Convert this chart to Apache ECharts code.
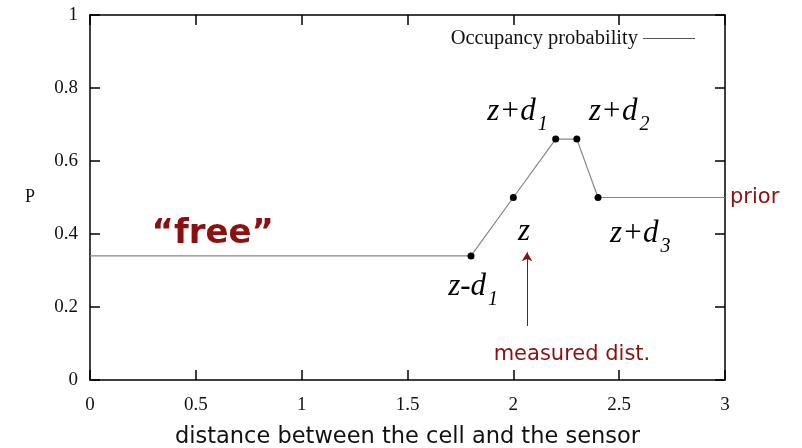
<!DOCTYPE html>
<html>
<head>
<meta charset="utf-8">
<script src="https://cdn.jsdelivr.net/npm/echarts@6/dist/echarts.min.js"></script>
<style>
  html, body { margin: 0; padding: 0; background: #fff; }
  #chart { width: 802px; height: 448px; }
</style>
</head>
<body>
<div id="chart"></div>
<script>
// distance / probability of the sensor model
const distX = [0, 1.8, 2.0, 2.2, 2.3, 2.4, 3.0];
const occP = [0.34, 0.34, 0.5, 0.66, 0.66, 0.5, 0.5];
const xTicks = [0, 0.5, 1, 1.5, 2, 2.5, 3];
const yTicks = [0, 0.2, 0.4, 0.6, 0.8, 1];

// italic labels next to the curve: [x, y, rich text]
const mathLabels = [
  [2.02, 0.725, "{m|z+d}{s|1}"],
  [2.50, 0.725, "{m|z+d}{s|2}"],
  [2.05, 0.405, "{m|z}"],
  [2.60, 0.39, "{m|z+d}{s|3}"],
  [1.81, 0.245, "{m|z-d}{s|1}"]
];
// red notes: [x, y, text, size, weight]
const notes = [
  [0.58, 0.40, "“free”", 34, "bold"],
  [2.277, 0.07, "measured dist.", 21, "normal"]
];
const arrowX = 2.065;
const arrowFrom = 0.148;
const arrowTo = 0.35;

const darkRed = "#8b1111";
const serif = "Liberation Serif";

let myChart = echarts.init(document.getElementById("chart"));

const frameAxis = {
  min: 0,
  axisLine: { show: true, onZero: false, lineStyle: { color: "#000", width: 1.5 } },
  axisTick: { show: true, inside: true, length: 10, lineStyle: { color: "#000", width: 1.5 } },
  splitLine: { show: false }
};

let option = {
  animation: false,
  grid: { left: 90, right: 77, top: 15, bottom: 68, outerBoundsMode: "none" },
  legend: {
    right: 102,
    top: 23,
    align: "right",
    icon: "rect",
    itemWidth: 52,
    itemHeight: 1,
    itemGap: 10,
    itemStyle: { color: "#555" },
    textStyle: { fontFamily: serif, fontSize: 20.5, color: "#111" },
    data: ["Occupancy probability"]
  },
  xAxis: [
    Object.assign({}, frameAxis, {
      type: "value",
      max: 3,
      interval: 0.5,
      name: "distance between the cell and the sensor",
      nameLocation: "middle",
      nameGap: 46,
      nameTextStyle: { fontFamily: "DejaVu Sans", fontSize: 22.5, color: "#111" },
      axisLabel: {
        margin: 16,
        fontFamily: serif,
        fontSize: 19,
        color: "#111",
        formatter: (v) => String(v)
      }
    }),
    Object.assign({}, frameAxis, {
      type: "value",
      position: "top",
      max: 3,
      interval: 0.5,
      axisLabel: { show: false }
    })
  ],
  yAxis: [
    Object.assign({}, frameAxis, {
      type: "value",
      max: 1,
      interval: 0.2,
      name: "P",
      nameLocation: "middle",
      nameRotate: 0,
      nameGap: 55,
      nameTextStyle: { fontFamily: serif, fontSize: 18, color: "#111" },
      axisLabel: {
        margin: 12,
        fontFamily: serif,
        fontSize: 19,
        color: "#111",
        formatter: (v) => String(Math.round(v * 10) / 10)
      }
    }),
    Object.assign({}, frameAxis, {
      type: "value",
      position: "right",
      max: 1,
      interval: 0.2,
      axisLabel: { show: false }
    })
  ],
  series: [
    {
      name: "Occupancy probability",
      type: "line",
      data: distX.map((x, i) => [x, occP[i]]),
      symbol: "circle",
      symbolSize: (v, p) => (p.dataIndex === 0 || p.dataIndex === distX.length - 1 ? 0 : 7),
      itemStyle: { color: "#000" },
      lineStyle: { color: "#858585", width: 1.2 },
      z: 3
    },
    {
      name: "labels",
      type: "scatter",
      symbolSize: 0,
      silent: true,
      itemStyle: { opacity: 1 },
      data: mathLabels.map((d) => ({ value: [d[0], d[1]], label: { formatter: d[2] } })),
      label: {
        show: true,
        position: "inside",
        color: "#000",
        rich: {
          m: { fontFamily: serif, fontStyle: "italic", fontSize: 31, color: "#000", lineHeight: 32, verticalAlign: "top" },
          s: { fontFamily: serif, fontStyle: "italic", fontSize: 20, color: "#000", lineHeight: 39, padding: [0, 0, 0, 2], verticalAlign: "bottom" }
        }
      }
    },
    {
      name: "notes",
      type: "scatter",
      symbolSize: 0,
      silent: true,
      itemStyle: { opacity: 1 },
      data: notes.map((d) => ({
        value: [d[0], d[1]],
        label: { formatter: d[2], fontSize: d[3], fontWeight: d[4] }
      })),
      label: {
        show: true,
        position: "inside",
        fontFamily: "DejaVu Sans",
        color: darkRed
      },
      markLine: {
        silent: true,
        symbol: ["none", "arrow"],
        symbolSize: [8, 9],
        label: { show: false },
        lineStyle: { color: darkRed, width: 1, type: "solid", opacity: 1 },
        data: [[{ coord: [arrowX, arrowFrom] }, { coord: [arrowX, arrowTo] }]]
      }
    },
    {
      name: "prior",
      type: "scatter",
      symbolSize: 0,
      silent: true,
      clip: false,
      itemStyle: { opacity: 1 },
      data: [[distX[distX.length - 1], occP[occP.length - 1]]],
      label: {
        show: true,
        position: "right",
        distance: 5,
        formatter: "prior",
        fontFamily: "DejaVu Sans",
        fontSize: 21,
        color: darkRed
      }
    }
  ]
};
option && myChart.setOption(option);
</script>
</body>
</html>
